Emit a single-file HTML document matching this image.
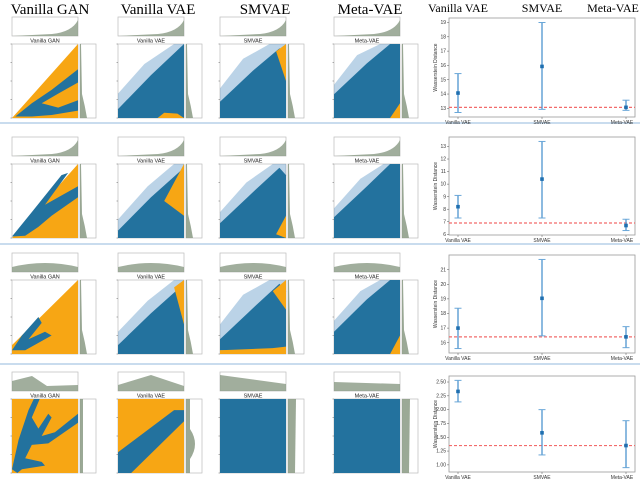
<!DOCTYPE html>
<html><head><meta charset="utf-8"><style>
html,body{margin:0;padding:0;background:#fff;width:640px;height:482px;overflow:hidden}
svg{display:block;font-family:"Liberation Sans",sans-serif}
</style></head><body>
<svg id="fig" width="640" height="482" viewBox="0 0 640 482"></svg>
<script>
// ---- Right error-bar chart data ----
const categories = ["Vanilla VAE","SMVAE","Meta-VAE"];
const row1Means = [14.07, 15.93, 13.07];
const row1Lows  = [12.71, 12.93, 12.86];
const row1Highs = [15.43, 19.0, 13.57];
const row2Means = [8.2, 10.4, 6.7];
const row2Lows  = [7.3, 7.3, 6.3];
const row2Highs = [9.1, 13.4, 7.2];
const row3Means = [17.0, 19.04, 16.4];
const row3Lows  = [15.6, 16.47, 15.66];
const row3Highs = [18.36, 21.7, 17.1];
const row4Means = [2.33, 1.58, 1.35];
const row4Lows  = [2.14, 1.18, 0.95];
const row4Highs = [2.53, 2.0, 1.8];
const baselines = [13.07, 6.9, 16.4, 1.35];
const row1Ticks = ["13","14","15","16","17","18","19"];
const row2Ticks = ["6","7","8","9","10","11","12","13"];
const row3Ticks = ["16","17","18","19","20","21"];
const row4Ticks = ["1.00","1.25","1.50","1.75","2.00","2.25","2.50"];

const NS="http://www.w3.org/2000/svg";
const svg=document.getElementById('fig');
function mk(tag,attrs,parent){const e=document.createElementNS(NS,tag);for(const k in attrs)e.setAttribute(k,attrs[k]);(parent||svg).appendChild(e);return e;}

// column titles
const titles=[["Vanilla GAN",50],["Vanilla VAE",158],["SMVAE",265],["Meta-VAE",370]];
titles.forEach(t=>{const e=mk('text',{x:t[1],y:14,'text-anchor':'middle','font-size':15,'font-family':'Liberation Serif, serif',fill:'#000'});e.textContent=t[0];

});
[["Vanilla VAE",458],["SMVAE",542],["Meta-VAE",613]].forEach(t=>{const e=mk('text',{x:t[1],y:12,'text-anchor':'middle','font-size':12,'font-family':'Liberation Serif, serif',fill:'#000'});e.textContent=t[0];

});

// row dividers
[123,244,364].forEach(y=>{const l=mk('line',{x1:0,x2:640,y1:y,y2:y,stroke:'#c9dcee','stroke-width':2});

});

// ---- scatter panels (imagery) ----
const OR='#f7a614', BL='#23729e', HALO='rgba(60,130,185,0.35)';
const colLeft=[12,118,220,334];
const rowTop=[17,137,253,372];
const T=[[0,0],[1,1],[1,0]];
const FULL=[[0,0],[0,1],[1,1],[1,0]];
const panels=[
 [ // row1
  [[OR,T],[BL,[[0.05,0.02],[0.3,0.2],[0.6,0.38],[1,0.66],[1,0.48],[0.7,0.33],[0.45,0.2],[0.7,0.14],[1,0.24],[1,0.1],[0.6,0.04],[0.3,0.02]]]],
  [[HALO,[[0,0],[0,0.33],[0.4,0.73],[0.85,1],[1,1],[1,0]]],[BL,[[0,0],[0,0.12],[0.5,0.58],[1,1],[1,0]]],[OR,[[0.6,0],[0.7,0.07],[0.9,0.06],[1,0]]]],
  [[HALO,[[0,0],[0,0.4],[0.35,0.8],[0.75,1],[1,1],[1,0]]],[BL,[[0,0],[0,0.22],[0.5,0.64],[0.9,0.94],[1,0.9],[1,0]]],[OR,[[0.85,0.9],[1,1],[1,0.5]]]],
  [[HALO,[[0,0],[0,0.45],[0.35,0.85],[0.7,1],[1,1],[1,0]]],[BL,[[0,0],[0,0.32],[0.5,0.74],[0.85,1],[1,1],[1,0]]],[OR,[[0.85,0],[1,0.2],[1,0]]]]
 ],
 [ // row2
  [[OR,T],[BL,[[0,0.02],[0.3,0.35],[0.75,0.85],[0.85,0.88],[0.5,0.45],[0.8,0.6],[1,0.7],[1,0.55],[0.6,0.3],[0.4,0.15],[0.2,0.03]]]],
  [[HALO,[[0,0],[0,0.25],[0.45,0.7],[0.85,1],[1,1],[1,0]]],[BL,[[0,0],[0,0.1],[0.5,0.55],[1,0.95],[1,0]]],[OR,[[0.7,0.5],[1,1],[1,0.3]]]],
  [[HALO,[[0,0],[0,0.35],[0.4,0.75],[0.8,1],[1,1],[1,0]]],[BL,[[0,0],[0,0.2],[0.5,0.62],[0.9,0.95],[1,0.85],[1,0]]],[OR,[[0.85,0.05],[1,0.3],[1,0]]]],
  [[HALO,[[0,0],[0,0.4],[0.4,0.8],[0.75,1],[1,1],[1,0]]],[BL,[[0,0],[0,0.28],[0.5,0.7],[0.85,1],[1,1],[1,0]]]]
 ],
 [ // row3
  [[OR,[[0,0],[0,0.12],[1,1],[1,0]]],[BL,[[0,0.05],[0.15,0.25],[0.4,0.5],[0.45,0.42],[0.25,0.2],[0.5,0.3],[0.6,0.25],[0.2,0.05]]]],
  [[HALO,[[0,0],[0,0.3],[0.45,0.72],[0.85,1],[1,1],[1,0]]],[BL,[[0,0],[0,0.12],[0.5,0.55],[1,0.95],[1,0]]],[OR,[[0.85,0.9],[1,1],[1,0.4]]]],
  [[HALO,[[0,0],[0,0.4],[0.35,0.8],[0.75,1],[1,1],[1,0]]],[BL,[[0,0.05],[0,0.2],[0.5,0.62],[0.9,0.95],[1,0.85],[1,0.05]]],[OR,[[0,0],[0,0.05],[0.8,0.08],[1,0.1],[1,0]]],[OR,[[0.8,0.85],[1,1],[1,0.6]]]],
  [[HALO,[[0,0],[0,0.45],[0.4,0.85],[0.7,1],[1,1],[1,0]]],[BL,[[0,0],[0,0.3],[0.5,0.74],[0.85,1],[1,1],[1,0.1],[0.9,0]]],[OR,[[0.85,0],[1,0.25],[1,0]]]]
 ],
 [ // row4
  [[OR,FULL],[BL,[[0,0.05],[0.1,0.45],[0.25,0.85],[0.33,1],[0.42,1],[0.3,0.75],[0.4,0.6],[0.55,0.8],[0.6,0.75],[0.45,0.5],[0.65,0.55],[1,0.8],[1,0.68],[0.55,0.4],[0.3,0.38],[0.2,0.2],[0.45,0.15],[0.5,0.1],[0.15,0.05],[0.08,0]]]],
  [[OR,FULL],[BL,[[0,0],[0.2,0],[1,0.7],[1,0.85],[0.85,0.85],[0,0.28]]]],
  [[BL,FULL]],
  [[BL,FULL]]
 ]
];
const MW=66, MH=74;
for(let r=0;r<4;r++){for(let c=0;c<4;c++){
  const x0=colLeft[c], yT=rowTop[r], y0=yT+27;
  const g=mk('g',{});
  
  
  const tm=mk('rect',{x:x0,y:yT,width:MW,height:19,fill:'#fff',stroke:'#bbb','stroke-width':0.7},g);
  
  
  let tp;
  if(r==3&&c==0) tp=`M${x0},${yT+19} L${x0},${yT+9} L${x0+20},${yT+4} L${x0+35},${yT+14} L${x0+66},${yT+13} L${x0+66},${yT+19}Z`;
  else if(r==3&&c==1) tp=`M${x0},${yT+19} L${x0},${yT+13} L${x0+33},${yT+3} L${x0+66},${yT+14} L${x0+66},${yT+19}Z`;
  else if(r==3) tp=`M${x0},${yT+19} L${x0},${yT+ (c==2?3:10)} L${x0+66},${yT+12} L${x0+66},${yT+19}Z`;
  else if(r==2) tp=`M${x0},${yT+19} L${x0},${yT+14} Q${x0+33},${yT+6} ${x0+66},${yT+14} L${x0+66},${yT+19}Z`;
  else tp=`M${x0},${yT+19} L${x0+40},${yT+17} Q${x0+60},${yT+15} ${x0+66},${yT+3} L${x0+66},${yT+19}Z`;
  mk('path',{d:tp,fill:'#8a9a84',opacity:0.8},g);
  const mr=mk('rect',{x:x0,y:y0,width:MW,height:MH,fill:'#fff',stroke:'#bbb','stroke-width':0.7},g);
  
  
  panels[r][c].forEach(p=>{
    const pts=p[1].map(q=>(x0+q[0]*MW).toFixed(1)+','+(y0+MH-q[1]*MH).toFixed(1)).join(' ');
    mk('polygon',{points:pts,fill:p[0]},g);
  });
  const rx=x0+68, rw=16;
  const rm=mk('rect',{x:rx,y:y0,width:rw,height:MH,fill:'#fff',stroke:'#bbb','stroke-width':0.7},g);
  
  
  let rp;
  if(r==3&&c==1) rp=`M${rx},${y0} L${rx+4},${y0} L${rx+4},${y0+30} Q${rx+14},${y0+45} ${rx+4},${y0+60} L${rx+4},${y0+MH} L${rx},${y0+MH}Z`;
  else if(r==3) rp=`M${rx},${y0} L${rx+(c==0?3:8)},${y0} L${rx+(c==0?3:7)},${y0+MH} L${rx},${y0+MH}Z`;
  else rp=`M${rx},${y0} L${rx+1},${y0} L${rx+2},${y0+50} Q${rx+5},${y0+62} ${rx+7},${y0+MH} L${rx},${y0+MH}Z`;
  mk('path',{d:rp,fill:'#8a9a84',opacity:0.85},g);
  const ttl=mk('text',{x:x0+MW/2,y:y0-1.5,'text-anchor':'middle','font-size':5.5,fill:'#222'},g);
  ttl.textContent=["Vanilla GAN","Vanilla VAE","SMVAE","Meta-VAE"][c];
  for(let i=0;i<5;i++){mk('line',{x1:x0-1.5,x2:x0,y1:y0+MH-i*MH/4,y2:y0+MH-i*MH/4,stroke:'#666','stroke-width':0.5},g);}
}}

// ---- error bar charts ----
const rowsData=[[row1Means,row1Lows,row1Highs,row1Ticks],[row2Means,row2Lows,row2Highs,row2Ticks],[row3Means,row3Lows,row3Highs,row3Ticks],[row4Means,row4Lows,row4Highs,row4Ticks]];
const boxes=[[18,117],[137,235],[255,353],[376,472]];
const BX0=449, BX1=635;
const catX=i=>458+i*84;
rowsData.forEach((rd,ri)=>{
  const [m,lo,hi,ticks]=rd;
  const allv=lo.concat(hi);
  let mn=Math.min(...allv), mx=Math.max(...allv); const pad=(mx-mn)*0.05; mn-=pad; mx+=pad;
  const [t,b]=boxes[ri];
  const y=v=>b-(v-mn)/(mx-mn)*(b-t);
  const g=mk('g',{});
  
  
  const fr=mk('rect',{x:BX0,y:t,width:BX1-BX0,height:b-t,fill:'#fff',stroke:'#999','stroke-width':0.8},g);
  
  
  ticks.forEach(tk=>{const v=parseFloat(tk);const yy=y(v);
    mk('line',{x1:BX0-2,x2:BX0,y1:yy,y2:yy,stroke:'#555','stroke-width':0.5},g);
    const tx=mk('text',{x:BX0-3,y:yy+1.6,'text-anchor':'end','font-size':5,fill:'#333'},g);tx.textContent=tk;
    
    });
  const yl=mk('text',{x:0,y:0,transform:`translate(437,${(t+b)/2}) rotate(-90)`,'text-anchor':'middle','font-size':5,fill:'#333'},g);
  yl.textContent='Wasserstein Distance';
  
  
  const bl=mk('line',{x1:BX0,x2:BX1,y1:y(baselines[ri]),y2:y(baselines[ri]),stroke:'#f26b6b','stroke-width':1.2,'stroke-dasharray':'3,2'},g);
  
  
  categories.forEach((cat,i)=>{
    const cx=catX(i);
    const eb=mk('line',{x1:cx,x2:cx,y1:y(lo[i]),y2:y(hi[i]),stroke:'#4f95cf','stroke-width':1.3},g);
    
    
    [lo[i],hi[i]].forEach(v=>mk('line',{x1:cx-3.5,x2:cx+3.5,y1:y(v),y2:y(v),stroke:'#6aa7d8','stroke-width':1},g));
    const pt=mk('rect',{x:cx-1.8,y:y(m[i])-1.8,width:3.6,height:3.6,fill:'#1f6fb0'},g);
    
    
    mk('line',{x1:cx,x2:cx,y1:b,y2:b+2,stroke:'#555','stroke-width':0.5},g);
    const cl=mk('text',{x:i==2?cx-4:cx,y:b+7,'text-anchor':'middle','font-size':5,fill:'#333'},g);cl.textContent=cat;
    
    
  });
});
</script>
</body></html>
